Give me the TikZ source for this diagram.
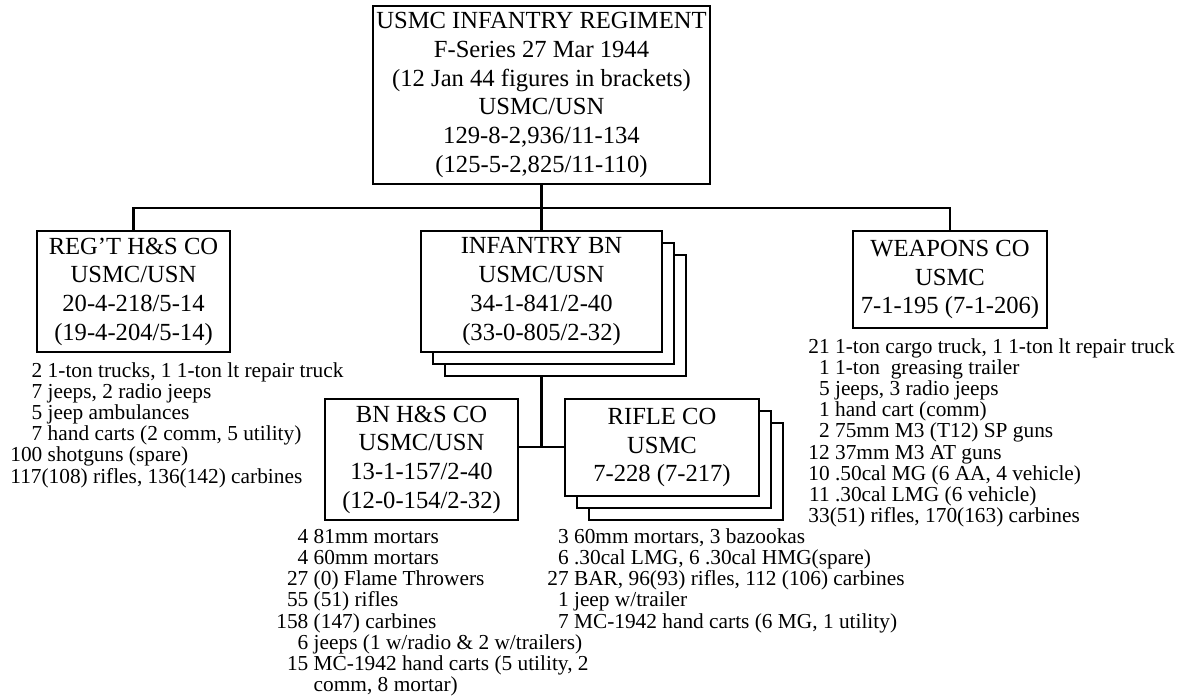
\documentclass[tikz,border=0pt]{standalone}
\usepackage{fontspec}
\setmainfont{Liberation Serif}
\usetikzlibrary{calc,shadows}

\begin{document}
\begin{tikzpicture}[x=0.5pt,y=-0.5pt,
  unit/.style={rectangle,draw,line width=1pt,fill=white,align=center,inner sep=0.5pt,font=\fontsize{12.3}{14.35}\selectfont},
  stack/.style={copy shadow={shadow xshift=12pt,shadow yshift=-12pt,draw,fill=white,line width=1pt},copy shadow={shadow xshift=6pt,shadow yshift=-6pt,draw,fill=white,line width=1pt}},
  kit/.style={anchor=base west,inner sep=0pt,font=\fontsize{10.67}{10.6}\selectfont},
  link/.style={draw,line width=1.2pt}
]
\useasboundingbox (0,0) rectangle (1183,698);
% units
\node[unit,minimum width=168.5pt,minimum height=89pt] (regt) at (541.5,95) {USMC INFANTRY REGIMENT\\F-Series 27 Mar 1944\\(12 Jan 44 figures in brackets)\\USMC/USN\\129-8-2,936/11-134\\(125-5-2,825/11-110)};
\node[unit,minimum width=96.5pt,minimum height=60.5pt] (hsco) at (133.5,291.5) {REG'T H\&S CO\\USMC/USN\\20-4-218/5-14\\(19-4-204/5-14)};
\node[unit,stack,minimum width=120.5pt,minimum height=60.5pt] (infbn) at (541.5,291.5) {INFANTRY BN\\USMC/USN\\34-1-841/2-40\\(33-0-805/2-32)};
\node[unit,minimum width=97pt,minimum height=48.5pt] (wpnco) at (950,279.5) {WEAPONS CO\\USMC\\7-1-195 (7-1-206)};
\node[unit,minimum width=96.5pt,minimum height=60.5pt] (bnhs) at (421.5,459.5) {BN H\&S CO\\USMC/USN\\13-1-157/2-40\\(12-0-154/2-32)};
\node[unit,stack,minimum width=97pt,minimum height=48.5pt] (rifle) at (662,447.5) {RIFLE CO\\USMC\\7-228 (7-217)};
% links
\coordinate (bus) at (541.5,208);
\coordinate (bnjoin) at (541.5,447);
\draw[link] (regt.south) -- (bus); \draw[link] (hsco.north) |- (bus) -| (wpnco.north); \draw[link] (infbn.north) -- (bus);
\draw[link] ($(infbn.south)+(0,24)$) -- (bnjoin); \draw[link] (bnhs.east |- bnjoin) -- (rifle.west |- bnjoin);
% equipment
\node[kit] (hskit) at (10,377) {\begin{tabular}[t]{@{}r@{\ }l@{}}
2 & 1-ton trucks, 1 1-ton lt repair truck\\
7 & jeeps, 2 radio jeeps\\
5 & jeep ambulances\\
7 & hand carts (2 comm, 5 utility)\\
100 & shotguns (spare)\\
\multicolumn{2}{@{}l@{}}{117(108) rifles, 136(142) carbines}
\end{tabular}};
\node[kit] (wpnkit) at (808,353) {\begin{tabular}[t]{@{}r@{\ }l@{}}
21 & 1-ton cargo truck, 1 1-ton lt repair truck\\
1 & 1-ton\ \ greasing trailer\\
5 & jeeps, 3 radio jeeps\\
1 & hand cart (comm)\\
2 & 75mm M3 (T12) SP guns\\
12 & 37mm M3 AT guns\\
10 & .50cal MG (6 AA, 4 vehicle)\\
11 & .30cal LMG (6 vehicle)\\
\multicolumn{2}{@{}l@{}}{33(51) rifles, 170(163) carbines}
\end{tabular}};
\node[kit] (bnhskit) at (276,543) {\begin{tabular}[t]{@{}r@{\ }l@{}}
4 & 81mm mortars\\
4 & 60mm mortars\\
27 & (0) Flame Throwers\\
55 & (51) rifles\\
158 & (147) carbines\\
6 & jeeps (1 w/radio \& 2 w/trailers)\\
15 & MC-1942 hand carts (5 utility, 2\\
 & comm, 8 mortar)
\end{tabular}};
\node[kit] (riflekit) at (547,543) {\begin{tabular}[t]{@{}r@{\ }l@{}}
3 & 60mm mortars, 3 bazookas\\
6 & .30cal LMG, 6 .30cal HMG(spare)\\
27 & BAR, 96(93) rifles, 112 (106) carbines\\
1 & jeep w/trailer\\
7 & MC-1942 hand carts (6 MG, 1 utility)
\end{tabular}};
\end{tikzpicture}
\end{document}
